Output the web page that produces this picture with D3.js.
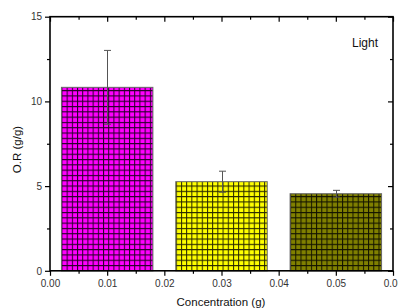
<!DOCTYPE html>
<html><head><meta charset="utf-8">
<script src="https://cdn.jsdelivr.net/npm/d3@7"></script>
<style>body{margin:0;background:#fff}svg{display:block}</style>
</head><body>
<svg id="c" width="398" height="308"></svg>
<script>
const concentrations = [0.01, 0.03, 0.05];
const values = [10.83, 5.26, 4.55];
const errors = [2.18, 0.62, 0.2];
const colors = ["#ff00ff", "#ffff00", "#808000"];
const xTicks = [0.00, 0.01, 0.02, 0.03, 0.04, 0.05, 0.06];
const yTicks = [0, 5, 10, 15];
const barWidth = 0.016;
const label = "Light";

const svg = d3.select("#c");
const L = 50, R = 393, T = 16.7, B = 270.8;
const x = d3.scaleLinear().domain([0, 0.06]).range([L, R]);
const y = d3.scaleLinear().domain([0, 15]).range([B, T]);

const defs = svg.append("defs");
colors.forEach((c, i) => {
  const p = defs.append("pattern").attr("id", "p" + i)
    .attr("patternUnits", "userSpaceOnUse").attr("width", 5.2).attr("height", 5.3)
    .attr("x", x(concentrations[i] - barWidth / 2)).attr("y", 0);
  p.append("rect").attr("width", 5.2).attr("height", 5.3).attr("fill", c);
  p.append("path").attr("d", "M0.5,0V5.3M0,0.5H5.2").attr("stroke", "#000").attr("stroke-width", 1).attr("opacity", 0.85);
});

// bars
svg.selectAll("rect.bar").data(values).enter().append("rect").attr("class", "bar")
  .attr("x", (d, i) => x(concentrations[i] - barWidth / 2))
  .attr("width", (d, i) => x(concentrations[i] + barWidth / 2) - x(concentrations[i] - barWidth / 2))
  .attr("y", d => y(d)).attr("height", d => B - y(d))
  .attr("fill", (d, i) => "url(#p" + i + ")")
  .attr("stroke", "#666").attr("stroke-width", 1);

// error bars
const eg = svg.append("g").attr("stroke", "#555").attr("stroke-width", 1);
values.forEach((v, i) => {
  const cx = Math.round(x(concentrations[i])) + 0.5;
  eg.append("line").attr("x1", cx).attr("x2", cx).attr("y1", y(v + errors[i])).attr("y2", y(v - errors[i]));
  [v + errors[i], v - errors[i]].forEach(e => {
    eg.append("line").attr("x1", cx - 3.5).attr("x2", cx + 3.5).attr("y1", y(e)).attr("y2", y(e));
  });
});

// axes
const fmtX = d3.format(".2f");
const xMinor = d3.range(0.005, 0.06, 0.01);
const yMinor = [2.5, 7.5, 12.5];
const gx = svg.append("g").attr("transform", `translate(0,${B})`)
  .call(d3.axisBottom(x).tickValues(xTicks).tickFormat(fmtX).tickSize(5).tickPadding(4));
const gxm = svg.append("g").attr("transform", `translate(0,${B})`)
  .call(d3.axisBottom(x).tickValues(xMinor).tickFormat("").tickSize(3));
const gy = svg.append("g").attr("transform", `translate(${L},0)`)
  .call(d3.axisLeft(y).tickValues(yTicks).tickSize(5).tickPadding(3));
const gym = svg.append("g").attr("transform", `translate(${L},0)`)
  .call(d3.axisLeft(y).tickValues(yMinor).tickFormat("").tickSize(3));
const gt = svg.append("g").attr("transform", `translate(0,${T})`)
  .call(d3.axisBottom(x).tickValues(xTicks).tickFormat("").tickSize(5));
const gtm = svg.append("g").attr("transform", `translate(0,${T})`)
  .call(d3.axisBottom(x).tickValues(xMinor).tickFormat("").tickSize(3));
const gr = svg.append("g").attr("transform", `translate(${R},0)`)
  .call(d3.axisLeft(y).tickValues(yTicks).tickFormat("").tickSize(5));
const grm = svg.append("g").attr("transform", `translate(${R},0)`)
  .call(d3.axisLeft(y).tickValues(yMinor).tickFormat("").tickSize(3));
[gx, gxm, gy, gym, gt, gtm, gr, grm].forEach(g => {
  g.select(".domain").remove();
  g.selectAll("line").attr("stroke", "#000").attr("stroke-width", 1.2);
  g.selectAll("text").attr("font-family", "Liberation Sans, Arial, sans-serif").attr("font-size", 10).attr("fill", "#333");
});
svg.append("rect").attr("x", L).attr("y", T).attr("width", R - L).attr("height", B - T)
  .attr("fill", "none").attr("stroke", "#000").attr("stroke-width", 1.6);

// titles
svg.append("text").attr("x", 221).attr("y", 305.5).attr("text-anchor", "middle")
  .attr("font-family", "Liberation Sans, Arial, sans-serif").attr("font-size", 11.5).attr("fill", "#111")
  .text("Concentration (g)");
svg.append("text").attr("transform", `translate(20.5,149.5) rotate(-90)`).attr("text-anchor", "middle")
  .attr("font-family", "Liberation Sans, Arial, sans-serif").attr("font-size", 11.5).attr("fill", "#111")
  .text("O.R (g/g)");
svg.append("text").attr("x", 352).attr("y", 46.5)
  .attr("font-family", "Liberation Sans, Arial, sans-serif").attr("font-size", 12).attr("fill", "#111")
  .text(label);
</script>
</body></html>
